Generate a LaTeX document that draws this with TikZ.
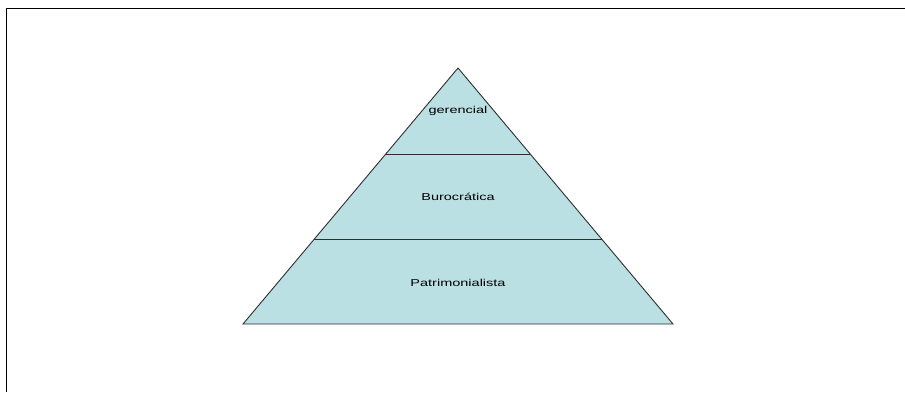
\documentclass[tikz,border=0pt]{standalone}
\usepackage{fontspec}
\setmainfont{Liberation Sans}
\definecolor{pyrfill}{HTML}{BBE0E3}
\definecolor{pyrline}{HTML}{2E2E2E}
\newcommand{\wide}[1]{\scalebox{1.45}[1]{#1}}
\begin{document}
\begin{tikzpicture}[x=1pt,y=-1pt,
  frameline/.style={black,line width=1.9pt},
  pyrside/.style={pyrline,line width=0.9pt},
  label/.style={font=\fontsize{10}{12}\selectfont,text=black,inner sep=0pt}]
\useasboundingbox (0,0) rectangle (905,392);
\coordinate (apex) at (458,68);
\coordinate (bl) at (243,324);
\coordinate (br) at (673,324);
\coordinate (l1) at (385.8,154);
\coordinate (r1) at (530.2,154);
\coordinate (l2) at (314.4,239);
\coordinate (r2) at (601.6,239);
\fill[pyrfill] (apex) -- (br) -- (bl) -- cycle;
\draw[pyrside,line join=miter] (apex) -- (br) -- (bl) -- cycle;
\draw[pyrside] (l1) -- (r1);
\draw[pyrside] (l2) -- (r2);
\node[label] (g) at (458,111) {\wide{gerencial}};
\node[label] (b) at (458,197) {\wide{Burocrática}};
\node[label] (p) at (458,283) {\wide{Patrimonialista}};
\coordinate (fc) at (6.5,8.5);
\coordinate (fr) at (905,8.5);
\coordinate (fb) at (6.5,392);
\draw[frameline] (fr) -- (fc) -- (fb);
\end{tikzpicture}
\end{document}
